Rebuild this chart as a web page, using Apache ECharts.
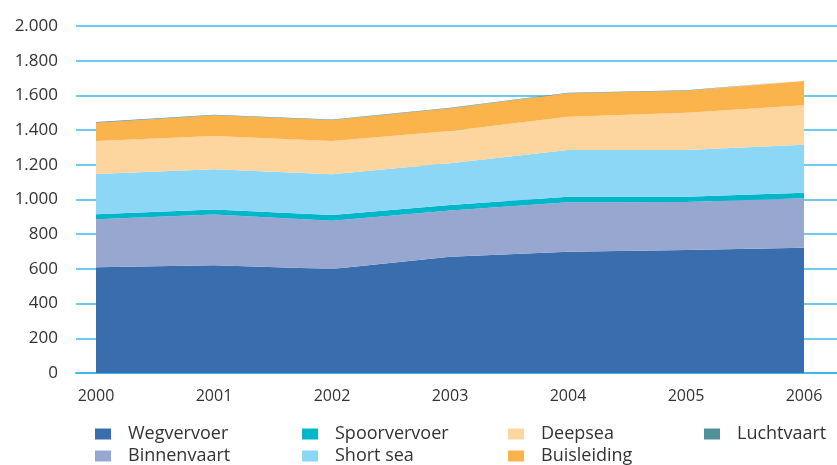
<!DOCTYPE html>
<html style="height: 100%">
<head>
<meta charset="utf-8" />
<script src="https://cdn.jsdelivr.net/npm/echarts@6/dist/echarts.min.js"></script>
</head>
<body style="height: 100%; margin: 0">
<div id="container" style="width: 837px; height: 465px"></div>
<script type="text/javascript">
// years on the x axis
const years = ["2000", "2001", "2002", "2003", "2004", "2005", "2006"];
// values per transport mode (stacked, bottom to top)
const wegvervoer = [610, 621, 600, 670, 699, 709, 722];
const binnenvaart = [276, 293, 278, 266, 285, 277, 285];
const spoorvervoer = [29, 29, 33, 32, 32, 30, 32];
const shortSea = [232, 231, 234, 241, 269, 269, 277];
const deepsea = [190, 192, 192, 186, 192, 215, 227];
const buisleiding = [106, 119, 121, 131, 135, 127, 140];
const luchtvaart = [3, 3, 3, 3, 3, 3, 3];

const seriesDefs = [
  {name: "Wegvervoer", values: wegvervoer, color: "#3a6dae"},
  {name: "Binnenvaart", values: binnenvaart, color: "#97a7cf"},
  {name: "Spoorvervoer", values: spoorvervoer, color: "#00b6c9"},
  {name: "Short sea", values: shortSea, color: "#8cd7f5"},
  {name: "Deepsea", values: deepsea, color: "#fcd59f"},
  {name: "Buisleiding", values: buisleiding, color: "#fbb34c"},
  {name: "Luchtvaart", values: luchtvaart, color: "#4f9299"}
];

const font = "'Open Sans', sans-serif";
const lineBlue = "#3cbbe8";

function legendCol(left, names) {
  return {
    orient: "vertical",
    left: left,
    top: 425,
    padding: 0,
    itemWidth: 16,
    itemHeight: 11,
    itemGap: 4,
    icon: "rect",
    data: names,
    textStyle: {fontFamily: font, fontSize: 18, color: "#333", padding: [0, 0, 0, 12]}
  };
}

let chart = echarts.init(document.getElementById("container"));
chart.setOption({
  animation: false,
  grid: [
    // background grid: wide gridlines and y labels
    {left: 76, right: 0, top: 26, bottom: 92},
    // plot grid for the areas
    {left: 96, right: 33, top: 26, bottom: 92}
  ],
  legend: [
    legendCol(95, ["Wegvervoer", "Binnenvaart"]),
    legendCol(302, ["Spoorvervoer", "Short sea"]),
    legendCol(508, ["Deepsea", "Buisleiding"]),
    legendCol(704, ["Luchtvaart"])
  ],
  xAxis: [
    {
      gridIndex: 0,
      type: "value",
      min: 0,
      max: 1,
      axisLine: {show: true, lineStyle: {color: lineBlue, width: 2}},
      axisTick: {show: false},
      axisLabel: {show: false},
      splitLine: {show: false}
    },
    {
      gridIndex: 1,
      type: "category",
      data: years,
      boundaryGap: false,
      axisLine: {show: false},
      axisTick: {show: false},
      axisLabel: {fontFamily: font, fontSize: 16, color: "#333", margin: 15}
    }
  ],
  yAxis: [
    {
      gridIndex: 0,
      type: "value",
      min: 0,
      max: 2000,
      interval: 200,
      axisLine: {show: false},
      axisTick: {show: false},
      splitLine: {lineStyle: {color: lineBlue, width: 1.5}},
      axisLabel: {
        formatter: (v) => v.toLocaleString("de-DE"),
        fontFamily: font, fontSize: 17, color: "#333", margin: 18
      }
    },
    {
      gridIndex: 1,
      type: "value",
      min: 0,
      max: 2000,
      show: false
    }
  ],
  series: seriesDefs.map((s) => ({
    name: s.name,
    type: "line",
    xAxisIndex: 1,
    yAxisIndex: 1,
    stack: "total",
    data: s.values,
    showSymbol: false,
    symbol: "none",
    color: s.color,
    lineStyle: {width: 0},
    areaStyle: {color: s.color, opacity: 1}
  }))
});
</script>
</body>
</html>
